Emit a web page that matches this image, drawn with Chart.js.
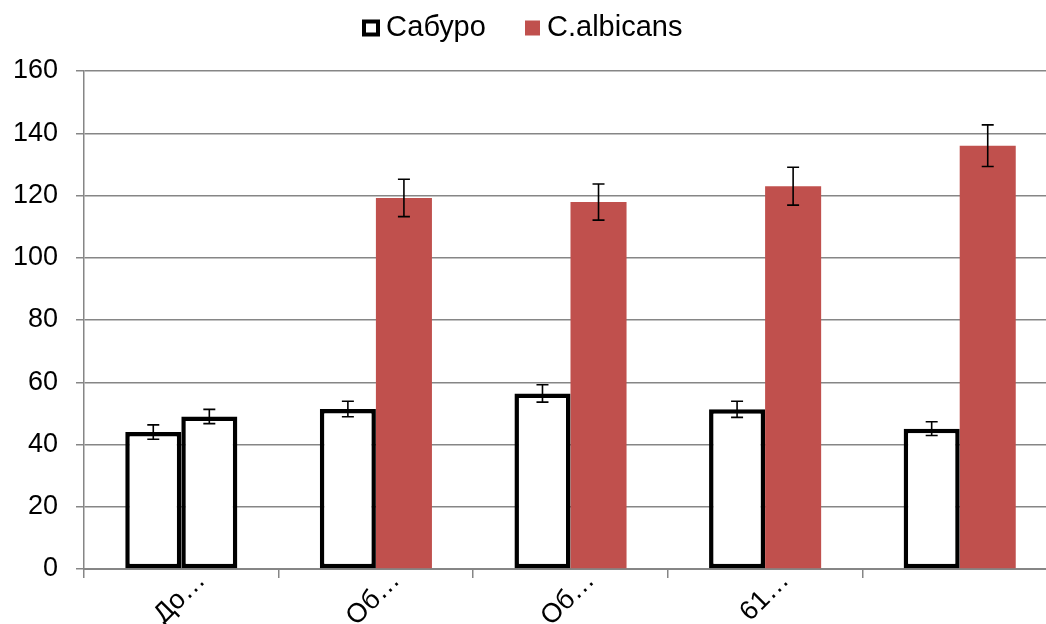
<!DOCTYPE html>
<html>
<head>
<meta charset="utf-8">
<script src="https://cdn.jsdelivr.net/npm/chart.js@4"></script>
<style>
  html, body { margin: 0; padding: 0; background: #fff; }
  #wrap { width: 1046px; height: 624px; overflow: hidden; position: relative; }
  #box { width: 1057px; height: 624px; position: absolute; left: 0; top: 0; }
</style>
</head>
<body>
<div id="wrap"><div id="box"><canvas id="chart"></canvas></div></div>
<script>
// categories (labels are cut short in the original)
const categories = ['До…', 'Об…', 'Об…', '61…', ''];

// series values
const saburo = [44, 51.4, 56.4, 51.3, 45.1];
const albicans = [49, 119.2, 117.9, 123, 136];

// error bar half-widths
const saburoErr = [2.3, 2.5, 2.8, 2.6, 2.2];
const albicansErr = [2.3, 6.0, 5.8, 6.1, 6.7];

const red = '#C0504D';
const grey = '#868686';
const font = "'Liberation Sans', Arial, sans-serif";

// error bars drawn from the scales
const errorBars = {
    id: 'errorBars',
    afterDatasetsDraw(chart) {
        const ctx = chart.ctx;
        const y = chart.scales.y;
        const errs = [saburoErr, albicansErr];
        ctx.save();
        ctx.strokeStyle = '#000';
        ctx.lineWidth = 1.6;
        chart.data.datasets.forEach((ds, i) => {
            chart.getDatasetMeta(i).data.forEach((bar, j) => {
                const v = ds.data[j], e = errs[i][j];
                const top = y.getPixelForValue(v + e);
                const bot = y.getPixelForValue(v - e);
                ctx.beginPath();
                ctx.moveTo(bar.x, top); ctx.lineTo(bar.x, bot);
                ctx.moveTo(bar.x - 6, top); ctx.lineTo(bar.x + 6, top);
                ctx.moveTo(bar.x - 6, bot); ctx.lineTo(bar.x + 6, bot);
                ctx.stroke();
            });
        });
        ctx.restore();
    }
};

// legend like the original: small box, tight gap
const topLegend = {
    id: 'topLegend',
    afterDraw(chart) {
        const ctx = chart.ctx;
        ctx.save();
        ctx.font = '29px ' + font;
        ctx.textBaseline = 'middle';
        const yc = 28;
        // Сабуро
        ctx.lineWidth = 4;
        ctx.strokeStyle = '#000';
        ctx.fillStyle = '#fff';
        ctx.fillRect(364, yc - 6.5, 14, 13);
        ctx.strokeRect(364, yc - 6.5, 14, 13);
        ctx.fillStyle = '#000';
        ctx.fillText(chart.data.datasets[0].label, 386, yc);
        // C.albicans
        ctx.fillStyle = red;
        ctx.fillRect(525, yc - 7.5, 15, 15);
        ctx.fillStyle = '#000';
        ctx.fillText(chart.data.datasets[1].label, 547, yc);
        ctx.restore();
    }
};

new Chart(document.getElementById('chart'), {
    type: 'bar',
    data: {
        labels: categories,
        datasets: [
            {
                label: 'Сабуро',
                data: saburo,
                backgroundColor: '#fff',
                borderColor: '#000',
                borderWidth: 4.5,
                borderSkipped: false
            },
            {
                label: 'C.albicans',
                data: albicans,
                backgroundColor: ['#fff', red, red, red, red],
                borderColor: ['#000', red, red, red, red],
                borderWidth: [4.5, 0, 0, 0, 0],
                borderSkipped: false
            }
        ]
    },
    options: {
        responsive: true,
        maintainAspectRatio: false,
        animation: false,
        layout: { padding: { top: 71, left: 0, right: 0, bottom: 0 } },
        datasets: { bar: { categoryPercentage: 0.576, barPercentage: 1.0 } },
        plugins: {
            legend: { display: false },
            tooltip: { enabled: false }
        },
        scales: {
            x: {
                grid: { display: true, drawOnChartArea: false, drawTicks: true, tickLength: 9, color: grey, lineWidth: 1.5, offset: true },
                border: { display: true, color: grey, width: 2 },
                ticks: {
                    color: '#000',
                    font: { family: font, size: 27 },
                    minRotation: 45,
                    maxRotation: 45,
                    autoSkip: false,
                    labelOffset: 20,
                    padding: -13
                },
                afterFit: (scale) => { scale.height = 55; }
            },
            y: {
                min: 0,
                max: 160,
                grid: { color: grey, lineWidth: 1.5, tickLength: 8 },
                border: { display: true, color: grey, width: 1.5 },
                ticks: {
                    stepSize: 20,
                    color: '#000',
                    font: { family: font, size: 27 },
                    padding: 18
                },
                afterFit: (scale) => { scale.width = 84; }
            }
        }
    },
    plugins: [errorBars, topLegend]
});
</script>
</body>
</html>
